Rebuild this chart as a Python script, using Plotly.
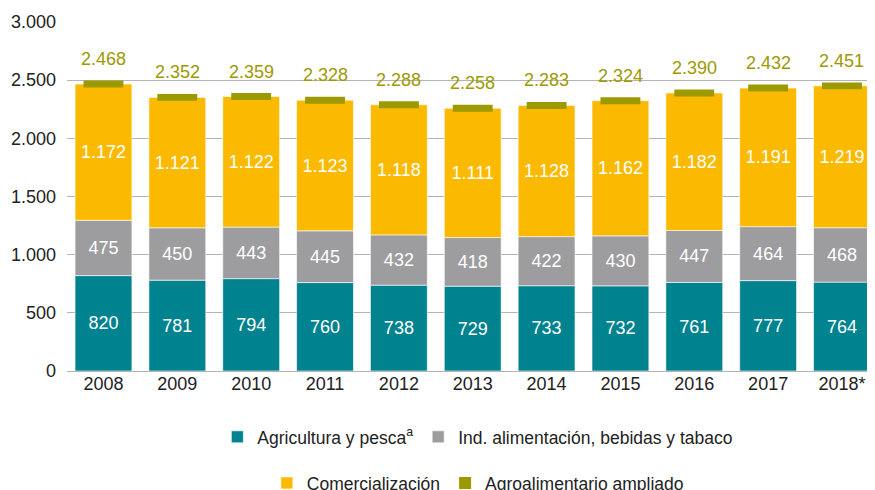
import plotly.graph_objects as go

years = ["2008", "2009", "2010", "2011", "2012", "2013", "2014", "2015", "2016", "2017", "2018*"]
agricultura = [820, 781, 794, 760, 738, 729, 733, 732, 761, 777, 764]
industria = [475, 450, 443, 445, 432, 418, 422, 430, 447, 464, 468]
comercializacion = [1172, 1121, 1122, 1123, 1118, 1111, 1128, 1162, 1182, 1191, 1219]
ampliado = [2468, 2352, 2359, 2328, 2288, 2258, 2283, 2324, 2390, 2432, 2451]
y_ticks = [0, 500, 1000, 1500, 2000, 2500, 3000]

C_TEAL = "#00828F"
C_GRAY = "#9D9D9F"
C_YELLOW = "#FBBA00"
C_OLIVE = "#9C9A00"
FONT = "Liberation Sans, Arial, sans-serif"

base_gray = agricultura
base_yellow = [a + b for a, b in zip(agricultura, industria)]
marker_half = 30
base_olive = [v - marker_half for v in ampliado]

def es(v):
    return f"{v:,}".replace(",", ".")

fig = go.Figure()
common = dict(width=0.77, textposition="inside", insidetextanchor="middle",
              textangle=0, constraintext="none",
              insidetextfont=dict(color="white", size=18, family=FONT),
              hoverinfo="skip")
line = dict(color="rgba(255,255,255,0.6)", width=1)

fig.add_trace(go.Bar(x=years, y=agricultura, base=[0] * len(years),
                     name="Agricultura y pesca<sup>a</sup>",
                     marker=dict(color=C_TEAL, line=line),
                     text=[es(v) for v in agricultura], legend="legend", **common))
fig.add_trace(go.Bar(x=years, y=industria, base=base_gray,
                     name="Ind. alimentación, bebidas y tabaco",
                     marker=dict(color=C_GRAY, line=line),
                     text=[es(v) for v in industria], legend="legend", **common))
fig.add_trace(go.Bar(x=years, y=comercializacion, base=base_yellow,
                     name="Comercialización",
                     marker=dict(color=C_YELLOW, line=line),
                     text=[es(v) for v in comercializacion], legend="legend2", **common))
fig.add_trace(go.Bar(x=years, y=[2 * marker_half] * len(years), base=base_olive,
                     name="Agroalimentario ampliado", width=0.54,
                     marker=dict(color=C_OLIVE, line=dict(width=0)),
                     hoverinfo="skip", legend="legend2"))

for i, v in enumerate(ampliado):
    fig.add_annotation(x=i, y=v, text=es(v), showarrow=False, yshift=25,
                       font=dict(color=C_OLIVE, size=18, family=FONT))

fig.update_layout(
    width=867, height=482,
    barmode="overlay",
    separators=",.",
    paper_bgcolor="white", plot_bgcolor="white",
    margin=dict(l=59, r=4, t=14, b=119, autoexpand=False),
    font=dict(family=FONT, size=18, color="#222222"),
    xaxis=dict(type="category", range=[-0.494, 10.393], showgrid=False,
               showline=False, ticks="", automargin=False,
               tickfont=dict(size=18, color="#222222")),
    yaxis=dict(range=[0, 3000], tickvals=y_ticks, tickformat=",",
               showgrid=True, gridcolor="#B4B4B4", gridwidth=1,
               zeroline=True, zerolinecolor="#B4B4B4", zerolinewidth=1,
               showline=False, ticks="", ticklabelstandoff=10, automargin=False,
               tickfont=dict(size=18, color="#222222")),
    legend=dict(orientation="h", x=0.511, xanchor="center", y=-0.189, yanchor="middle",
                font=dict(size=17.5, color="#222222"), bgcolor="rgba(0,0,0,0)",
                itemclick=False, itemdoubleclick=False),
    legend2=dict(orientation="h", x=0.511, xanchor="center", y=-0.321, yanchor="middle",
                 font=dict(size=17.5, color="#222222"), bgcolor="rgba(0,0,0,0)",
                 itemclick=False, itemdoubleclick=False),
    showlegend=True,
)

fig.write_html("out.html")
